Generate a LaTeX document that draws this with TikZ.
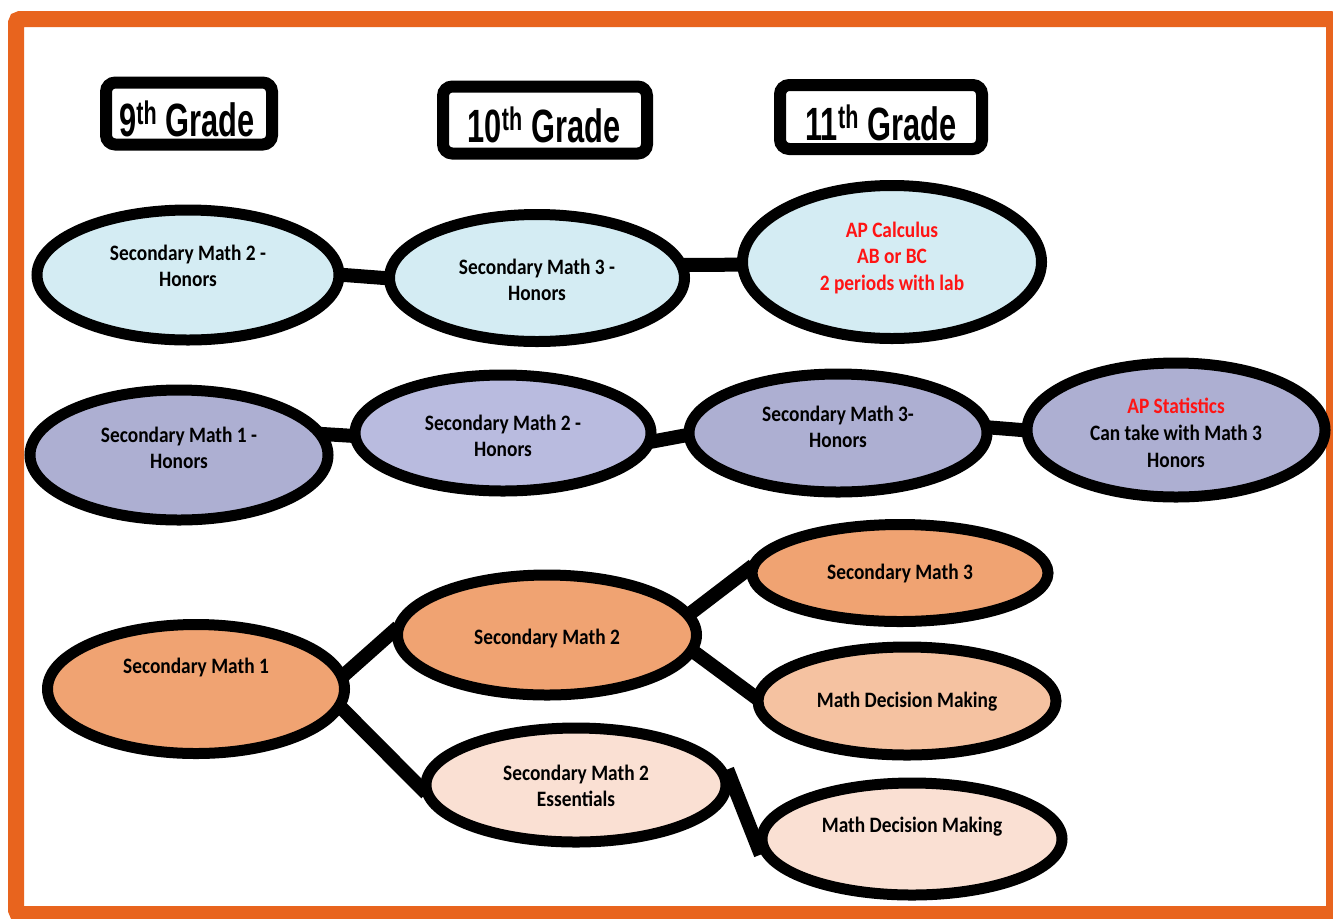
\documentclass[tikz,border=0pt]{standalone}
\usepackage{fontspec}
\usepackage{graphicx}
\setmainfont{Carlito}[FakeStretch=0.88]
\newfontfamily\gradefont{Liberation Sans}
\usetikzlibrary{shapes.geometric}
\pgfdeclarelayer{back}
\pgfdeclarelayer{bg}
\pgfsetlayers{back,bg,main}
\definecolor{frameorange}{RGB}{232,100,30}
\definecolor{lblue}{RGB}{212,236,243}
\definecolor{lavA}{RGB}{173,175,210}
\definecolor{lavB}{RGB}{185,187,223}
\definecolor{orA}{RGB}{240,163,114}
\definecolor{orB}{RGB}{245,194,161}
\definecolor{orC}{RGB}{250,224,211}
\definecolor{aptext}{RGB}{255,20,20}
\newcommand{\gradelabel}[2]{\scalebox{0.66}[1]{\gradefont\bfseries\fontsize{35}{37}\selectfont #1\textsuperscript{#2} Grade}}
\begin{document}
\begin{tikzpicture}[x=0.75pt,y=-0.75pt,
  oval/.style={ellipse, draw=black, line width=8.25pt, inner sep=0pt},
  link/.style={line width=10.5pt, black, shorten <=-6pt, shorten >=-6pt},
  txt/.style={align=center, font=\fontsize{16.5}{20}\selectfont\bfseries, text=black, inner sep=0pt},
  gradebox/.style={rounded corners=7pt, draw=black, line width=9pt, fill=white, inner sep=0pt},
  gtxt/.style={inner sep=0pt}]
\useasboundingbox (0,0) rectangle (1333,918);
\begin{pgfonlayer}{back}
\clip (0,0) rectangle (1333,918);
\fill[white] (0,0) rectangle (1333,918);
\draw[frameorange, line width=12pt, rounded corners=3pt] (16,19) rectangle (1334,914);
\end{pgfonlayer}

% grade headers
\node[gradebox, minimum width=124.5pt, minimum height=46.5pt] (G9) at (189,113.5) {};
\node[gtxt] (G9t) at (187,118.5) {\gradelabel{9}{th}};
\node[gradebox, minimum width=153pt, minimum height=50.25pt] (G10) at (545,120) {};
\node[gtxt] (G10t) at (544,124.5) {\gradelabel{10}{th}};
\node[gradebox, minimum width=151.5pt, minimum height=48pt] (G11) at (881,117) {};
\node[gtxt] (G11t) at (881,123) {\gradelabel{11}{th}};

% row 1
\node[oval, fill=lblue, minimum width=226.5pt, minimum height=97.5pt] (A1) at (188,275) {};
\node[txt] (A1t) at (188,266) {Secondary Math 2 -\\Honors};
\node[oval, fill=lblue, minimum width=221.25pt, minimum height=95.25pt] (A2) at (537,278) {};
\node[txt] (A2t) at (537,280) {Secondary Math 3 -\\Honors};
\node[oval, fill=lblue, minimum width=224.25pt, minimum height=114.75pt] (A3) at (892,262) {};
\node[txt, text=aptext] (A3t) at (892,258) {AP Calculus\\AB or BC\\2 periods with lab};

% row 2
\node[oval, fill=lavA, minimum width=223.5pt, minimum height=97.5pt] (B1) at (179,455) {};
\node[txt] (B1t) at (179,448) {Secondary Math 1 -\\Honors};
\node[oval, fill=lavB, minimum width=222pt, minimum height=87pt] (B2) at (503,433) {};
\node[txt] (B2t) at (503,436) {Secondary Math 2 -\\Honors};
\node[oval, fill=lavA, minimum width=223.5pt, minimum height=88.5pt] (B3) at (838,433) {};
\node[txt] (B3t) at (838,427) {Secondary Math 3-\\Honors};
\node[oval, fill=lavA, minimum width=223.5pt, minimum height=100.5pt] (B4) at (1176,430) {};
\node[txt] (B4t) at (1176,433) {\textcolor{aptext}{AP Statistics}\\Can take with Math 3\\Honors};

% row 3
\node[oval, fill=orA, minimum width=222.75pt, minimum height=96.75pt] (C1) at (196,689) {};
\node[txt] (C1t) at (196,667) {Secondary Math 1};
\node[oval, fill=orA, minimum width=224.25pt, minimum height=90pt] (C2) at (547,635) {};
\node[txt] (C2t) at (547,638) {Secondary Math 2};
\node[oval, fill=orA, minimum width=222pt, minimum height=72.75pt] (C3) at (900,573) {};
\node[txt] (C3t) at (900,573) {Secondary Math 3};
\node[oval, fill=orB, minimum width=223.5pt, minimum height=81pt] (C4) at (907,701) {};
\node[txt] (C4t) at (907,702) {Math Decision Making};
\node[oval, fill=orC, minimum width=225pt, minimum height=85.5pt] (C5) at (576,785) {};
\node[txt] (C5t) at (576,786) {Secondary Math 2\\Essentials};
\node[oval, fill=orC, minimum width=225pt, minimum height=84pt] (C6) at (912,839) {};
\node[txt] (C6t) at (912,827) {Math Decision Making};

% connectors
\begin{pgfonlayer}{bg}
\draw[link] (A1.east) -- (A2.180);
\draw[link] (A2.5) -- (A3.181);
\draw[link] (B1.8) -- (B2.181);
\draw[link] (B2.-3) -- (B3.181);
\draw[link] (B3.2) -- (B4.180);
\draw[link] (C1.6) -- (C2.179);
\draw[link] (C1.-8) -- (C5.181);
\draw[link] (C2.9) -- (C3.179);
\draw[link] (C2.-7) -- (C4.178);
\draw[link] (C5.3) -- (C6.183);
\end{pgfonlayer}
\end{tikzpicture}
\end{document}
